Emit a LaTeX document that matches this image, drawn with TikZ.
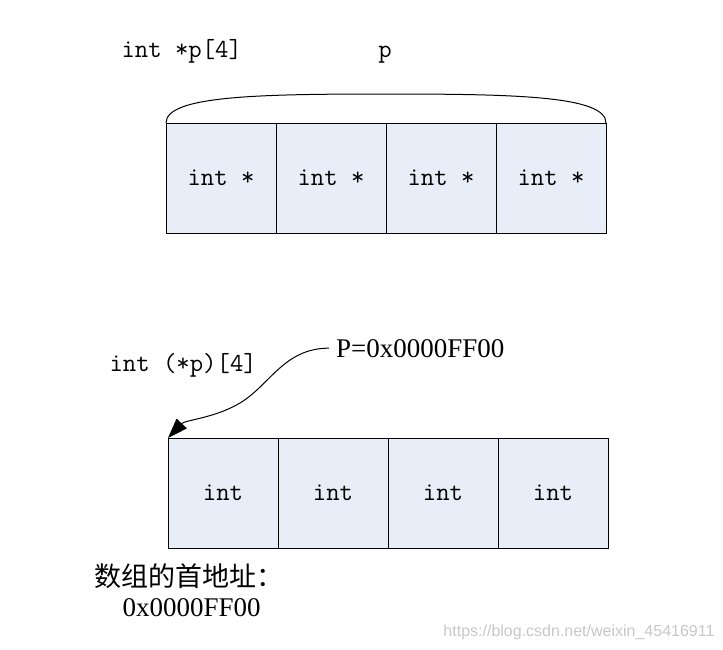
\documentclass[tikz,border=0pt]{standalone}
\usepackage{fontspec}
\setmainfont{Liberation Serif}
\newfontfamily\cjk{Noto Sans CJK SC}
\newfontfamily\wmfont{Liberation Sans}
\usepackage{tikz}
\usetikzlibrary{arrows.meta, positioning}
\definecolor{cellfill}{RGB}{232,238,247}

\begin{document}
\begin{tikzpicture}[
    x=0.5pt, y=-0.5pt,
    node distance=0pt,
    line width=0.5pt,
    every node/.style={font=\fontsize{13}{15}\selectfont\ttfamily},
    cell/.style={rectangle, draw, fill=cellfill, minimum width=55pt, minimum height=55pt, inner sep=0pt, outer sep=0pt},
    decl/.style={inner sep=0pt, anchor=base west},
    serif/.style={font=\fontsize{13.5}{16}\selectfont\rmfamily},
    arrow/.style={-{Triangle[length=10pt, width=7pt]}}
]
\useasboundingbox (0,0) rectangle (723,649);
% array of four pointers
\node[decl] (topdecl) at (121,57) {int *p[4]};
\node[inner sep=0pt, anchor=base] (topname) at (385,57) {p};
\node[cell] (p1) at (221,178) {int *};
\node[cell, right=of p1] (p2) {int *};
\node[cell, right=of p2] (p3) {int *};
\node[cell, right=of p3] (p4) {int *};
\draw (p1.north west) .. controls +(0,-27) and +(-130,0) .. (386,94)
      .. controls +(130,0) and +(0,-27) .. (p4.north east);
% pointer to an array of four ints
\node[decl] (botdecl) at (109,371) {int (*p)[4]};
\node[serif, anchor=base west] (ptr) at (329,357) {P=0x0000FF00};
\node[cell] (q1) at (223,493) {int};
\node[cell, right=of q1] (q2) {int};
\node[cell, right=of q2] (q3) {int};
\node[cell, right=of q3] (q4) {int};
\draw[arrow] (ptr.west) .. controls +(-45,0) and (270,385) .. (240,403)
      .. controls (215,418) and (185,420) .. (q1.north west);
\node[decl, font=\fontsize{13.5}{16}\selectfont\cjk] (cnnote) at (94,586) {数组的首地址：};
\node[decl, serif] (cnaddr) at (122,616) {0x0000FF00};
\node[inner sep=0pt, anchor=base east, text=black!22, font=\fontsize{8}{10}\selectfont\wmfont] (mark) at (715,636) {https://blog.csdn.net/weixin\_45416911};
\end{tikzpicture}
\end{document}
